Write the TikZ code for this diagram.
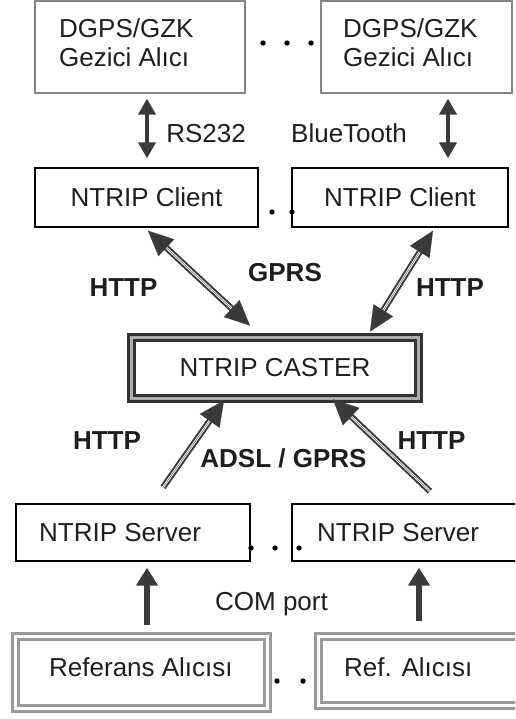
\documentclass[tikz,border=0pt]{standalone}
\usepackage{fontspec}
\setmainfont{Liberation Sans}
\usetikzlibrary{arrows.meta}
\definecolor{arrc}{HTML}{3A3A3A}
\definecolor{txtc}{HTML}{1E1E1E}
\definecolor{gline}{HTML}{858585}
\begin{document}
\begin{tikzpicture}[x=1pt,y=-1pt,
  every node/.style={font=\fontsize{26}{29}\selectfont, text=txtc, inner sep=0pt},
  gbox/.style={rectangle, draw=gline, line width=1.3pt},
  bbox/.style={rectangle, draw=black, line width=1.4pt},
  cbox/.style={rectangle, draw=black!80, double=gray!65, line width=2.8pt, double distance=3.2pt},
  rbox/.style={rectangle, draw=gray!80, double=white, line width=3.3pt, double distance=2.6pt},
  lbl/.style={anchor=base},
  blbl/.style={anchor=base, font=\fontsize{26}{29}\selectfont\bfseries},
  btxt/.style={anchor=west, align=left},
  vdbl/.style={draw=arrc, line width=4.5pt, {Triangle[length=16pt,width=17pt]}-{Triangle[length=16pt,width=17pt]}},
  vup/.style={draw=arrc, line width=6.5pt, -{Triangle[length=18pt,width=21pt]}},
  dshaft/.style={draw=arrc, double=white, line width=2pt, double distance=2.2pt},
  dheads/.style={draw=arrc, fill=arrc, line width=0.2pt, {Triangle[length=25pt,width=23pt]}-{Triangle[length=25pt,width=23pt]}},
  dhead/.style={draw=arrc, fill=arrc, line width=0.2pt, -{Triangle[length=25pt,width=24pt]}},
  dotc/.style={fill=black}
]
\useasboundingbox (0,0) rectangle (515,719);
\clip (0,0) rectangle (515,719);
\fill[white] (0,0) rectangle (515,719);

% top rover boxes
\node[gbox, minimum width=210pt, minimum height=92pt] (g1) at (140,47) {};
\node[gbox, minimum width=191pt, minimum height=92pt] (g2) at (416.5,47) {};
\node[btxt] (g1t) at (59,43) {DGPS/GZK\\Gezici Alıcı};
\node[btxt] (g2t) at (343,43) {DGPS/GZK\\Gezici Alıcı};
\fill[dotc] (263,43) circle (2.7) (287,43) circle (2.7) (311,43) circle (2.7);

% clients
\node[bbox, minimum width=223pt, minimum height=59pt] (c1) at (146.5,197.5) {NTRIP Client};
\node[bbox, minimum width=216pt, minimum height=59pt] (c2) at (400,197.5) {NTRIP Client};
\fill[dotc] (272,212) circle (2.7) (292,212) circle (2.7);

% caster
\node[cbox, minimum width=287.2pt, minimum height=61.2pt] (ca) at (275,368) {NTRIP CASTER};

% servers
\node[bbox, minimum width=234pt, minimum height=57pt] (s1) at (133,532.5) {};
\node[bbox, minimum width=238pt, minimum height=57pt] (s2) at (411,532.5) {};
\node[anchor=west] (s1t) at (39,533) {NTRIP Server};
\node[anchor=west] (s2t) at (317,533) {NTRIP Server};
\fill[dotc] (251,548) circle (2.7) (275,548) circle (2.7) (299,548) circle (2.7);

% reference receivers
\node[rbox, minimum width=251.8pt, minimum height=71.8pt] (r1) at (141.5,672.5) {};
\node[rbox, minimum width=221.4pt, minimum height=68.8pt] (r2) at (429.3,671) {};
\node[anchor=west] (r1t) at (49,667) {Referans Alıcısı};
\node[anchor=west] (r2t) at (344,667) {Ref. Alıcısı};
\fill[dotc] (277,681) circle (2.7) (303,681) circle (2.7);

% vertical double arrows (top)
\draw[vdbl] ([shift={(7,5)}]g1.south) -- ([shift={(0.5,-9)}]c1.north);
\draw[vdbl] ([shift={(31.5,5)}]g2.south) -- ([shift={(48,-9)}]c2.north);

% diagonal arrows client <-> caster
\draw[dshaft, shorten <=21pt, shorten >=21pt] ([shift={(1.5,3)}]c1.south) -- ([shift={(-25,-10.4)}]ca.north);
\draw[dheads] ([shift={(1.5,3)}]c1.south) -- ([shift={(-25,-10.4)}]ca.north);
\draw[dshaft, shorten <=21pt, shorten >=21pt] ([shift={(33,3)}]c2.south) -- ([shift={(95,-4.4)}]ca.north);
\draw[dheads] ([shift={(33,3)}]c2.south) -- ([shift={(95,-4.4)}]ca.north);

% diagonal arrows server -> caster
\draw[dshaft, shorten >=21pt] ([shift={(30,-16)}]s1.north) -- ([shift={(-51,0.4)}]ca.south);
\draw[dhead] ([shift={(30,-16)}]s1.north) -- ([shift={(-51,0.4)}]ca.south);
\draw[dshaft, shorten >=21pt] ([shift={(19,-12)}]s2.north) -- ([shift={(58,-0.6)}]ca.south);
\draw[dhead] ([shift={(19,-12)}]s2.north) -- ([shift={(58,-0.6)}]ca.south);

% vertical up arrows (bottom)
\draw[vup] ([shift={(5.5,-9.6)}]r1.north) -- ([shift={(14,6)}]s1.south);
\draw[vup] ([shift={(-10.3,-13.6)}]r2.north) -- ([shift={(8,6)}]s2.south);

% labels
\node[lbl] (l1) at (206,142.3) {RS232};
\node[lbl] (l2) at (349,142.3) {BlueTooth};
\node[blbl] (l3) at (123.5,296.3) {HTTP};
\node[blbl] (l4) at (285,281.3) {GPRS};
\node[blbl] (l5) at (450,296.3) {HTTP};
\node[blbl] (l6) at (107,449.3) {HTTP};
\node[blbl] (l7) at (283.5,467.3) {ADSL / GPRS};
\node[blbl] (l8) at (431.5,449.3) {HTTP};
\node[lbl] (l9) at (271.5,610.5) {COM port};
\end{tikzpicture}
\end{document}
